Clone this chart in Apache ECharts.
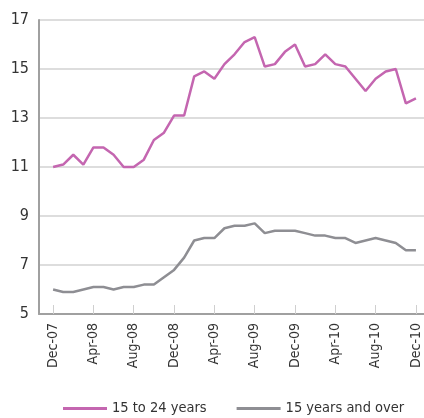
<!DOCTYPE html>
<html>
<head>
<meta charset="utf-8">
<script src="https://cdn.jsdelivr.net/npm/echarts@6/dist/echarts.min.js"></script>
<style>
  html, body { margin: 0; padding: 0; background: #fff; }
  #chart { width: 424px; height: 418px; }
</style>
</head>
<body>
<div id="chart"></div>
<script>
// months Dec-07 .. Dec-10
var months = ['Dec-07','Jan-08','Feb-08','Mar-08','Apr-08','May-08','Jun-08','Jul-08','Aug-08','Sep-08','Oct-08','Nov-08',
    'Dec-08','Jan-09','Feb-09','Mar-09','Apr-09','May-09','Jun-09','Jul-09','Aug-09','Sep-09','Oct-09','Nov-09',
    'Dec-09','Jan-10','Feb-10','Mar-10','Apr-10','May-10','Jun-10','Jul-10','Aug-10','Sep-10','Oct-10','Nov-10','Dec-10'];
var youth = [11.0,11.1,11.5,11.1,11.8,11.8,11.5,11.0,11.0,11.3,12.1,12.4,
    13.1,13.1,14.7,14.9,14.6,15.2,15.6,16.1,16.3,15.1,15.2,15.7,
    16.0,15.1,15.2,15.6,15.2,15.1,14.6,14.1,14.6,14.9,15.0,13.6,13.8];
var allAges = [6.0,5.9,5.9,6.0,6.1,6.1,6.0,6.1,6.1,6.2,6.2,6.5,
    6.8,7.3,8.0,8.1,8.1,8.5,8.6,8.6,8.7,8.3,8.4,8.4,
    8.4,8.3,8.2,8.2,8.1,8.1,7.9,8.0,8.1,8.0,7.9,7.6,7.6];
var tickIdx = [0,4,8,12,16,20,24,28,32,36];
var yTicks = {min: 5, max: 17, step: 2};

var font = '"Liberation Sans Narrow", "DejaVu Sans Condensed", sans-serif';

function pairs(arr) {
    return arr.map(function (v, i) { return [i, v]; });
}

var chart = echarts.init(document.getElementById('chart'));
chart.setOption({
    animation: false,
    grid: { left: 39, right: 0, top: 20, bottom: 104, containLabel: false },
    legend: {
        top: 396,
        left: 58,
        width: 380,
        icon: 'rect',
        itemWidth: 44,
        itemHeight: 3,
        itemGap: 30,
        textStyle: { fontFamily: font, fontSize: 14.5, color: '#333' },
        data: ['15 to 24 years', '15 years and over']
    },
    xAxis: {
        type: 'value',
        min: -1.4,
        max: 36.8,
        splitLine: { show: false },
        axisLine: { show: true, onZero: false, lineStyle: { color: '#a0a0a0', width: 2 } },
        axisTick: { show: true, inside: true, length: 9, customValues: tickIdx, lineStyle: { color: '#cfcfcf' } },
        axisLabel: {
            customValues: tickIdx,
            rotate: 90,
            margin: 9,
            fontFamily: font,
            fontSize: 14,
            color: '#333',
            formatter: function (v) { return months[Math.round(v)]; }
        }
    },
    yAxis: {
        type: 'value',
        min: yTicks.min,
        max: yTicks.max,
        interval: yTicks.step,
        axisLine: { show: true, onZero: false, lineStyle: { color: '#a0a0a0', width: 2 } },
        axisTick: { show: false },
        splitLine: { lineStyle: { color: '#d2d2d2', width: 1.5 } },
        axisLabel: { margin: 10, fontFamily: font, fontSize: 16, color: '#333' }
    },
    series: [
        {
            name: '15 to 24 years',
            type: 'line',
            data: pairs(youth),
            showSymbol: false,
            itemStyle: { color: '#c466b0' },
            lineStyle: { color: '#c466b0', width: 2.5 }
        },
        {
            name: '15 years and over',
            type: 'line',
            data: pairs(allAges),
            showSymbol: false,
            itemStyle: { color: '#8e8e93' },
            lineStyle: { color: '#8e8e93', width: 2.5 }
        }
    ]
});
</script>
</body>
</html>
